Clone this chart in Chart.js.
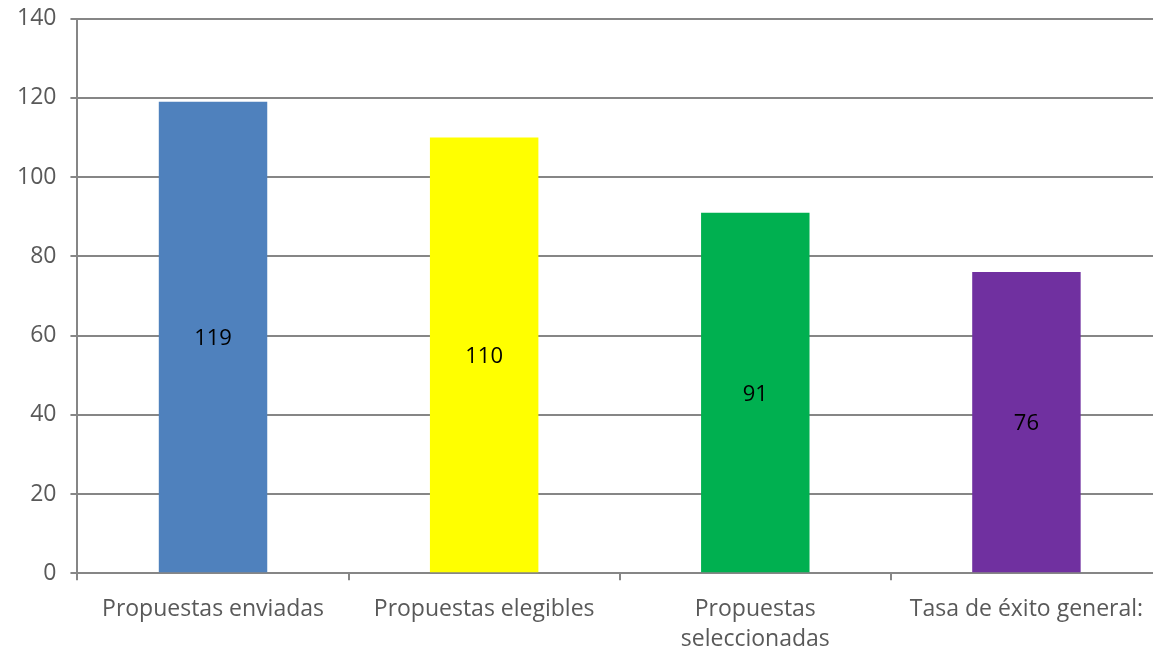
<!DOCTYPE html>
<html>
<head>
<meta charset="utf-8">
<script src="https://cdn.jsdelivr.net/npm/chart.js@4.4.0/dist/chart.umd.min.js"></script>
<style>
  html, body { margin: 0; padding: 0; background: #fff; overflow: hidden; }
  #wrap { width: 1162px; height: 659px; margin-top: -7px; }
</style>
</head>
<body>
<div id="wrap"><canvas id="chart" width="1162" height="659"></canvas></div>
<script>
// datos
const categories = ['Propuestas enviadas', 'Propuestas elegibles', ['Propuestas', 'seleccionadas'], 'Tasa de éxito general:'];
const values = [119, 110, 91, 76];
const barColors = ['#4f81bd', '#ffff00', '#00b050', '#7030a0'];
const yTicks = [0, 20, 40, 60, 80, 100, 120, 140];

// etiquetas dentro de las barras
const barLabels = {
    id: 'barLabels',
    afterDatasetsDraw(chart) {
        const ctx = chart.ctx;
        const meta = chart.getDatasetMeta(0);
        ctx.save();
        ctx.font = '22px "Open Sans"';
        ctx.fillStyle = '#000';
        ctx.textAlign = 'center';
        ctx.textBaseline = 'middle';
        meta.data.forEach((bar, i) => {
            const p = bar.getProps(['x', 'y', 'base'], true);
            ctx.fillText(values[i], p.x, (p.y + p.base) / 2 + 2);
        });
        ctx.restore();
    }
};

const ctx = document.getElementById('chart').getContext('2d');
new Chart(ctx, {
    type: 'bar',
    data: {
        labels: categories,
        datasets: [{
            data: values,
            backgroundColor: barColors,
            barPercentage: 0.4,
            categoryPercentage: 1
        }]
    },
    options: {
        responsive: false,
        animation: false,
        layout: { padding: { top: 0, left: 3, right: 0, bottom: -17 } },
        plugins: {
            legend: { display: false },
            tooltip: { enabled: false }
        },
        scales: {
            y: {
                min: 0,
                max: 140,
                afterBuildTicks(axis) { axis.ticks = yTicks.map(v => ({ value: v })); },
                grid: { color: '#868686', lineWidth: 2, tickLength: 7 },
                border: { color: '#868686', width: 2 },
                ticks: { color: '#595959', font: { family: 'Open Sans', size: 23, lineHeight: 1 }, padding: 14 }
            },
            x: {
                grid: { offset: true, drawOnChartArea: false, color: '#868686', lineWidth: 2, tickLength: 7 },
                border: { color: '#868686', width: 2 },
                ticks: { color: '#595959', font: { family: 'Open Sans', size: 23, lineHeight: 1.32 }, padding: 14, maxRotation: 0, autoSkip: false }
            }
        }
    },
    plugins: [barLabels]
});
</script>
</body>
</html>
